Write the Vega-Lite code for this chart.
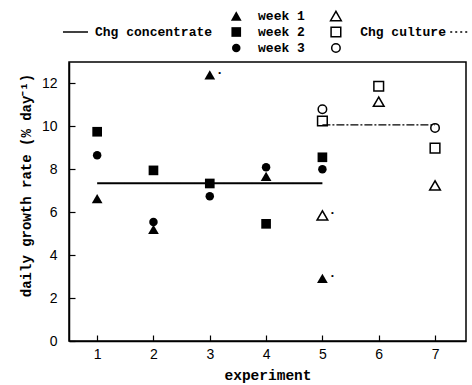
{
  "$schema": "https://vega.github.io/schema/vega-lite/v6.json",
  "padding": {"left": 18, "top": 0, "right": 0, "bottom": 0},
  "bounds": "flush",
  "spacing": 2,
  "resolve": {"scale": {"x": "independent", "y": "independent", "strokeDash": "independent"}},
  "config": {"view": {"stroke": null}, "font": "Liberation Sans"},
  "datasets": {
    "points": [
      {"experiment": 1, "week": "week 1", "group": "concentrate", "rate": 6.63},
      {"experiment": 1, "week": "week 2", "group": "concentrate", "rate": 9.75},
      {"experiment": 1, "week": "week 3", "group": "concentrate", "rate": 8.66},
      {"experiment": 2, "week": "week 1", "group": "concentrate", "rate": 5.2},
      {"experiment": 2, "week": "week 2", "group": "concentrate", "rate": 7.95},
      {"experiment": 2, "week": "week 3", "group": "concentrate", "rate": 5.55},
      {"experiment": 3, "week": "week 1", "group": "concentrate", "rate": 12.4},
      {"experiment": 3, "week": "week 2", "group": "concentrate", "rate": 7.34},
      {"experiment": 3, "week": "week 3", "group": "concentrate", "rate": 6.74},
      {"experiment": 4, "week": "week 1", "group": "concentrate", "rate": 7.67},
      {"experiment": 4, "week": "week 2", "group": "concentrate", "rate": 5.46},
      {"experiment": 4, "week": "week 3", "group": "concentrate", "rate": 8.1},
      {"experiment": 5, "week": "week 1", "group": "concentrate", "rate": 2.92},
      {"experiment": 5, "week": "week 2", "group": "concentrate", "rate": 8.56},
      {"experiment": 5, "week": "week 3", "group": "concentrate", "rate": 8.0},
      {"experiment": 5, "week": "week 1", "group": "culture", "rate": 5.85},
      {"experiment": 5, "week": "week 2", "group": "culture", "rate": 10.25},
      {"experiment": 5, "week": "week 3", "group": "culture", "rate": 10.8},
      {"experiment": 6, "week": "week 1", "group": "culture", "rate": 11.15},
      {"experiment": 6, "week": "week 2", "group": "culture", "rate": 11.87},
      {"experiment": 7, "week": "week 1", "group": "culture", "rate": 7.25},
      {"experiment": 7, "week": "week 2", "group": "culture", "rate": 8.99},
      {"experiment": 7, "week": "week 3", "group": "culture", "rate": 9.93}
    ],
    "lines": [
      {"series": "concentrate", "experiment": 1, "rate": 7.35},
      {"series": "concentrate", "experiment": 5, "rate": 7.35},
      {"series": "culture", "experiment": 5, "rate": 10.07},
      {"series": "culture", "experiment": 7, "rate": 10.07}
    ],
    "marks": [
      {"experiment": 3, "rate": 12.4},
      {"experiment": 5, "rate": 5.85},
      {"experiment": 5, "rate": 2.92}
    ],
    "legendLines": [
      {"series": "concentrate", "x": 0.393, "row": 2},
      {"series": "concentrate", "x": 0.837, "row": 2},
      {"series": "culture", "x": 7.27, "row": 2},
      {"series": "culture", "x": 7.6, "row": 2}
    ],
    "legendSym": [
      {"week": "week 1", "group": "concentrate", "x": 3.47, "row": 1},
      {"week": "week 2", "group": "concentrate", "x": 3.47, "row": 2},
      {"week": "week 3", "group": "concentrate", "x": 3.47, "row": 3},
      {"week": "week 1", "group": "culture", "x": 5.24, "row": 1},
      {"week": "week 2", "group": "culture", "x": 5.24, "row": 2},
      {"week": "week 3", "group": "culture", "x": 5.24, "row": 3}
    ],
    "legendText": [
      {"label": "Chg concentrate", "x": 0.962, "row": 2},
      {"label": "week 1", "x": 3.857, "row": 1},
      {"label": "week 2", "x": 3.857, "row": 2},
      {"label": "week 3", "x": 3.857, "row": 3},
      {"label": "Chg culture", "x": 5.67, "row": 2}
    ]
  },
  "vconcat": [
    {
      "width": 397,
      "height": 60,
      "view": {"stroke": null},
      "layer": [
        {
          "data": {"name": "legendLines"},
          "mark": {"type": "line", "color": "black", "strokeWidth": 1.5},
          "encoding": {
            "x": {"field": "x", "type": "quantitative", "scale": {"domain": [0.5, 7.55], "nice": false, "zero": false}, "axis": null},
            "y": {"field": "row", "type": "quantitative", "scale": {"domain": [0, 3.75], "reverse": true, "nice": false, "zero": false}, "axis": null},
            "detail": {"field": "series"},
            "strokeDash": {"field": "series", "type": "nominal", "scale": {"domain": ["concentrate", "culture"], "range": [[1, 0], [2, 3]]}, "legend": null}
          }
        },
        {
          "data": {"name": "legendSym"},
          "transform": [{"filter": "datum.group === 'concentrate'"}],
          "mark": {"type": "point", "filled": true, "color": "black", "opacity": 1},
          "encoding": {
            "x": {"field": "x", "type": "quantitative"},
            "y": {"field": "row", "type": "quantitative"},
            "shape": {"field": "week", "type": "nominal", "scale": {"domain": ["week 1", "week 2", "week 3"], "range": ["triangle-up", "square", "circle"]}, "legend": null},
            "size": {"field": "week", "type": "nominal", "scale": {"domain": ["week 1", "week 2", "week 3"], "range": [115, 72, 100]}, "legend": null}
          }
        },
        {
          "data": {"name": "legendSym"},
          "transform": [{"filter": "datum.group === 'culture'"}],
          "mark": {"type": "point", "filled": false, "color": "black", "strokeWidth": 1.5, "opacity": 1},
          "encoding": {
            "x": {"field": "x", "type": "quantitative"},
            "y": {"field": "row", "type": "quantitative"},
            "shape": {"field": "week", "type": "nominal", "legend": null},
            "size": {"field": "week", "type": "nominal", "legend": null}
          }
        },
        {
          "data": {"name": "legendText"},
          "mark": {"type": "text", "align": "left", "baseline": "middle", "font": "Liberation Mono", "fontWeight": "bold", "fontSize": 13, "color": "black"},
          "encoding": {
            "x": {"field": "x", "type": "quantitative"},
            "y": {"field": "row", "type": "quantitative"},
            "text": {"field": "label"}
          }
        }
      ]
    },
    {
      "width": 397,
      "height": 279,
      "view": {"stroke": "black", "strokeWidth": 1.5},
      "encoding": {
        "x": {
          "field": "experiment", "type": "quantitative",
          "scale": {"domain": [0.5, 7.55], "nice": false, "zero": false},
          "axis": {
            "values": [1, 2, 3, 4, 5, 6, 7], "format": "d", "title": "experiment", "grid": false,
            "tickSize": -6, "tickColor": "black", "tickWidth": 1.2, "domainColor": "black", "domainWidth": 1.5,
            "labelFont": "Liberation Sans", "labelFontSize": 14, "labelColor": "black", "labelPadding": 12, "labelAngle": 0,
            "titleFont": "Liberation Mono", "titleFontWeight": "bold", "titleFontSize": 14.5, "titleColor": "black",
            "titleY": 27, "titleBaseline": "top"
          }
        },
        "y": {
          "field": "rate", "type": "quantitative",
          "scale": {"domain": [0, 13], "nice": false},
          "axis": {
            "values": [0, 2, 4, 6, 8, 10, 12], "title": "daily growth rate (% day⁻¹)", "grid": false,
            "tickSize": -6, "tickColor": "black", "tickWidth": 1.2, "domainColor": "black", "domainWidth": 1.5,
            "labelFont": "Liberation Sans", "labelFontSize": 14, "labelColor": "black", "labelPadding": 18,
            "titleFont": "Liberation Mono", "titleFontWeight": "bold", "titleFontSize": 14, "titleColor": "black",
            "titleAngle": 270, "titleBaseline": "bottom", "titleAlign": "center", "titleX": -36, "titleY": 123
          }
        }
      },
      "layer": [
        {
          "data": {"name": "lines"},
          "mark": {"type": "line", "color": "black"},
          "encoding": {
            "detail": {"field": "series"},
            "strokeDash": {"field": "series", "type": "nominal", "scale": {"domain": ["concentrate", "culture"], "range": [[1, 0], [8, 2, 2, 2]]}, "legend": null},
            "strokeWidth": {"field": "series", "type": "nominal", "scale": {"domain": ["concentrate", "culture"], "range": [2, 1.3]}, "legend": null}
          }
        },
        {
          "data": {"name": "points"},
          "transform": [{"filter": "datum.group === 'concentrate'"}],
          "mark": {"type": "point", "filled": true, "color": "black", "opacity": 1},
          "encoding": {
            "shape": {"field": "week", "type": "nominal", "scale": {"domain": ["week 1", "week 2", "week 3"], "range": ["triangle-up", "square", "circle"]}, "legend": null},
            "size": {"field": "week", "type": "nominal", "scale": {"domain": ["week 1", "week 2", "week 3"], "range": [115, 72, 100]}, "legend": null}
          }
        },
        {
          "data": {"name": "points"},
          "transform": [{"filter": "datum.group === 'culture'"}],
          "mark": {"type": "point", "filled": false, "color": "black", "strokeWidth": 1.5, "opacity": 1},
          "encoding": {
            "shape": {"field": "week", "type": "nominal", "legend": null},
            "size": {"field": "week", "type": "nominal", "legend": null}
          }
        },
        {
          "data": {"name": "marks"},
          "mark": {"type": "text", "text": "•", "fontSize": 8, "dx": 10, "dy": -2, "color": "black"},
          "encoding": {}
        }
      ]
    }
  ]
}
